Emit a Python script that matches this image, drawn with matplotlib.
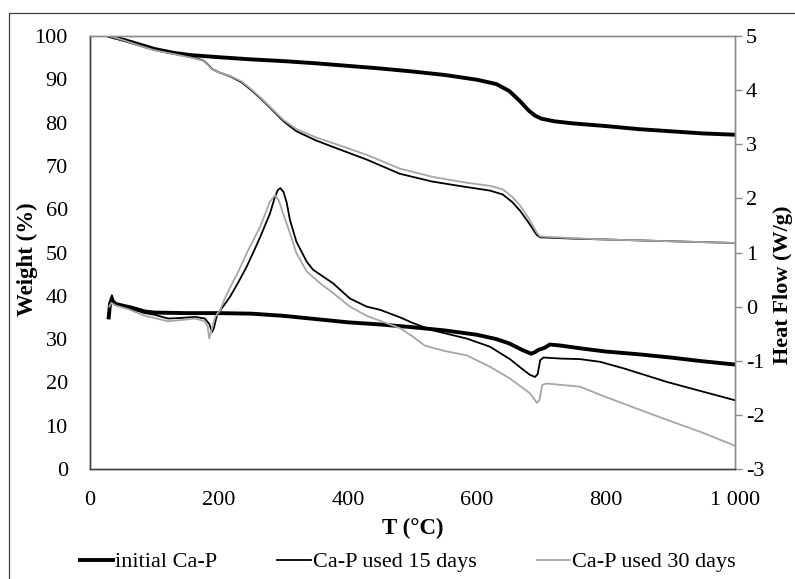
import matplotlib
matplotlib.use("Agg")
import matplotlib.pyplot as plt
from matplotlib.patches import Rectangle
from matplotlib.ticker import FuncFormatter, MultipleLocator

# ── data ────────────────────────────────────────────────────
LABELS = ["initial Ca-P", "Ca-P used 15 days", "Ca-P used 30 days"]

# weight (%) vs T (°C)
T_W_INIT = [30, 50, 80, 100, 130, 155, 200, 250, 300, 350, 400, 450, 500, 550, 600,
            630, 650, 667, 680, 690, 700, 720, 750, 800, 850, 900, 950, 1000]
W_INIT = [100.0, 99.2, 97.9, 97.0, 96.1, 95.6, 95.1, 94.6, 94.2, 93.7, 93.1, 92.5, 91.8,
          91.0, 89.9, 88.9, 87.3, 84.9, 82.8, 81.6, 80.9, 80.3, 79.8, 79.2, 78.5, 78.0,
          77.5, 77.2]

T_W_USED = [30, 50, 80, 100, 130, 160, 175, 183, 190, 200, 217, 235, 250, 265, 280, 300,
            320, 350, 380, 430, 480, 530, 580, 620, 640, 655, 667, 680, 693, 698, 750,
            800, 900, 1000]
W_15 = [100.0, 99.1, 97.7, 96.8, 95.9, 95.0, 94.4, 93.4, 92.3, 91.6, 90.7, 89.3, 87.5,
        85.5, 83.3, 80.3, 78.0, 75.9, 74.2, 71.4, 68.2, 66.4, 65.2, 64.3, 63.4, 61.6,
        59.6, 56.9, 54.0, 53.5, 53.2, 53.0, 52.6, 52.2]
W_30 = [100.0, 99.1, 97.6, 96.7, 95.8, 94.9, 94.3, 93.3, 92.2, 91.6, 90.8, 89.5, 87.7,
        85.7, 83.5, 80.6, 78.5, 76.6, 75.1, 72.5, 69.4, 67.5, 66.2, 65.4, 64.6, 62.8,
        60.8, 57.9, 54.5, 53.7, 53.3, 53.0, 52.6, 52.2]

# heat flow (W/g) vs T (°C)
T_H_INIT = [29, 31, 33, 40, 50, 65, 85, 100, 150, 200, 250, 300, 350, 400, 450, 500, 550,
            600, 630, 650, 670, 684, 690, 695, 705, 713, 730, 760, 800, 850, 900, 950, 1000]
H_INIT = [-0.20, 0.05, 0.12, 0.05, 0.02, -0.02, -0.09, -0.11, -0.12, -0.12, -0.13, -0.17,
          -0.23, -0.29, -0.33, -0.38, -0.44, -0.52, -0.60, -0.68, -0.80, -0.87, -0.84,
          -0.80, -0.76, -0.70, -0.72, -0.77, -0.83, -0.88, -0.94, -1.01, -1.07]

T_H_15 = [30, 32, 34, 37, 40, 60, 85, 100, 121, 140, 163, 178, 185, 189, 192, 197, 205,
          217, 230, 243, 255, 264, 279, 286, 291, 295, 300, 305, 310, 320, 336, 346, 362,
          377, 388, 403, 429, 450, 481, 500, 532, 584, 620, 651, 670, 682, 690, 694, 698,
          703, 730, 760, 791, 830, 894, 950, 1000]
H_15 = [-0.05, 0.15, 0.21, 0.10, 0.03, -0.03, -0.12, -0.15, -0.22, -0.21, -0.19, -0.22,
        -0.32, -0.47, -0.40, -0.15, -0.02, 0.18, 0.45, 0.74, 1.05, 1.29, 1.72, 2.00, 2.15,
        2.19, 2.12, 1.92, 1.60, 1.20, 0.83, 0.68, 0.55, 0.43, 0.31, 0.15, 0.00, -0.06,
        -0.20, -0.30, -0.44, -0.59, -0.74, -0.97, -1.15, -1.26, -1.30, -1.25, -0.99,
        -0.94, -0.96, -0.97, -1.02, -1.15, -1.39, -1.57, -1.73]

T_H_30 = [30, 33, 40, 60, 85, 100, 121, 140, 163, 178, 182, 185, 188, 194, 202, 208, 217,
          230, 243, 264, 279, 287, 293, 300, 310, 320, 336, 357, 377, 403, 429, 481, 500,
          519, 550, 584, 620, 650, 682, 693, 697, 701, 708, 760, 791, 840, 894, 950, 1000]
H_30 = [0.00, 0.07, 0.02, -0.05, -0.17, -0.21, -0.27, -0.25, -0.22, -0.27, -0.35, -0.59,
        -0.45, -0.19, -0.06, 0.12, 0.35, 0.65, 0.99, 1.48, 1.94, 2.06, 1.95, 1.70, 1.36,
        0.99, 0.65, 0.43, 0.25, 0.00, -0.17, -0.40, -0.55, -0.72, -0.82, -0.90, -1.11,
        -1.32, -1.60, -1.78, -1.72, -1.45, -1.42, -1.48, -1.63, -1.85, -2.09, -2.33, -2.57]

# ── style ───────────────────────────────────────────────────
FONT = "Liberation Serif"
FS = 16
DARK = "#404040"
GRID_GREY = "#8c8c8c"
STYLES = [dict(color="black", lw=2.8),
          dict(color="black", lw=1.3),
          dict(color="#a6a6a6", lw=1.3)]


def main():
    plt.rcParams["font.family"] = [FONT, "DejaVu Serif"]
    plt.rcParams["axes.unicode_minus"] = False

    fig = plt.figure(figsize=(7.95, 5.79), dpi=100)
    ax = fig.add_axes([90 / 795, 1 - 469 / 579, 645 / 795, 433 / 579])
    ax2 = ax.twinx()

    # weight curves on the primary axis
    ax.plot(T_W_INIT, W_INIT, **STYLES[0])
    ax.plot(T_W_USED, W_15, **STYLES[1])
    ax.plot(T_W_USED, W_30, **STYLES[2])
    # heat flow curves on the secondary axis
    h0, = ax2.plot(T_H_INIT, H_INIT, **STYLES[0])
    h1, = ax2.plot(T_H_15, H_15, **STYLES[1])
    h2, = ax2.plot(T_H_30, H_30, **STYLES[2])

    ax.set_xlim(0, 1000); ax.set_ylim(0, 100); ax2.set_ylim(-3, 5)
    ax.xaxis.set_major_locator(MultipleLocator(200))
    ax.xaxis.set_major_formatter(FuncFormatter(lambda v, _: f"{int(v):,}".replace(",", " ")))
    ax.yaxis.set_major_locator(MultipleLocator(10))
    ax2.yaxis.set_major_locator(MultipleLocator(1))

    for a in (ax, ax2):
        for side in ("top", "right"):
            a.spines[side].set_color(GRID_GREY)
        for side in ("left", "bottom"):
            a.spines[side].set_color(DARK)
        for s in a.spines.values():
            s.set_linewidth(1.0)
    ax.tick_params(axis="x", length=0, pad=16, labelsize=FS)
    ax.tick_params(axis="y", length=0, pad=16, labelsize=FS)
    ax2.tick_params(axis="y", length=5, width=1, color=GRID_GREY, pad=3, labelsize=FS)

    ax.set_xlabel("T (°C)", fontsize=FS + 0.5, fontweight="bold")
    ax.set_ylabel("Weight (%)", fontsize=FS + 0.5, fontweight="bold")
    ax2.set_ylabel("Heat Flow (W/g)", fontsize=FS, fontweight="bold", rotation=90)
    ax.xaxis.set_label_coords(0.50, -0.113)
    ax.yaxis.set_label_coords(-0.080, 0.485)
    ax2.yaxis.set_label_coords(1.059, 0.425)

    fig.legend([h0, h1, h2], LABELS, loc="center", bbox_to_anchor=(0.513, 0.029),
               ncol=3, frameon=False, fontsize=FS, handlelength=1.5,
               handletextpad=0.1, columnspacing=2.7, borderpad=0)

    # outer chart border (cut off at right and bottom in the reference)
    fig.patches.append(Rectangle((9 / 795, -0.1), 1.2, 1 - 13 / 579 + 0.1,
                                 transform=fig.transFigure, fill=False,
                                 edgecolor=DARK, lw=0.9, clip_on=False))

    fig.savefig("out.png", dpi=100)
    plt.close(fig)


if __name__ == "__main__":
    main()
